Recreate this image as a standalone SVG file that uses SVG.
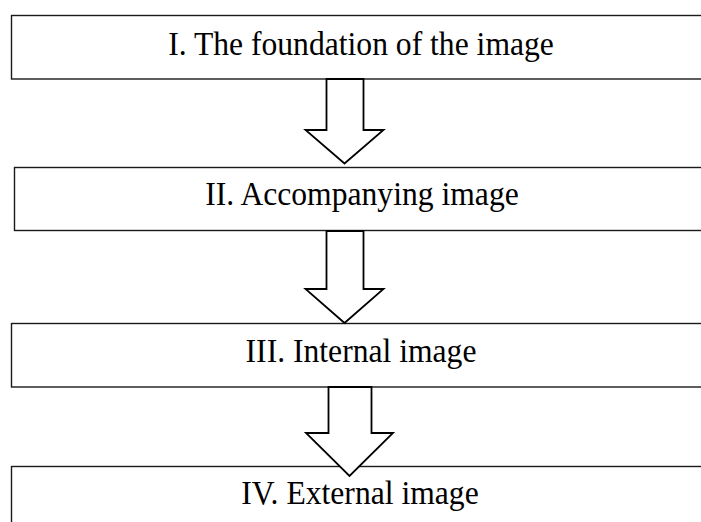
<svg xmlns="http://www.w3.org/2000/svg" width="701" height="522" viewBox="0 0 701 522">
<style>
.box{fill:#fff;stroke:#1a1a1a;stroke-width:1.4}
.lbl{font-family:"Liberation Serif","Times New Roman",serif;font-size:34px;fill:#000;text-anchor:middle}
.arr{fill:#fff;stroke:#000;stroke-width:1.8;stroke-linejoin:miter}
</style>
<rect width="701" height="522" fill="#fff"/>
<g id="node1"><rect class="box" x="11.5" y="15.5" width="700" height="63.5"/><text class="lbl" transform="translate(361,55) scale(0.93,1)">I. The foundation of the image</text></g>
<g id="node2"><rect class="box" x="14.5" y="167.5" width="700" height="63"/><text class="lbl" transform="translate(362,205) scale(0.93,1)">II. Accompanying image</text></g>
<g id="node3"><rect class="box" x="11.5" y="323.5" width="700" height="63.5"/><text class="lbl" transform="translate(361,362) scale(0.93,1)">III. Internal image</text></g>
<g id="node4"><rect class="box" x="11.5" y="466.5" width="700" height="70"/><text class="lbl" transform="translate(360,504) scale(0.93,1)">IV. External image</text></g>
<g id="connectors">
<polygon class="arr" points="326.5,79 363.5,79 363.5,130 383.5,130 344.5,163.5 305.5,130 326.5,130"/>
<polygon class="arr" points="326.5,231 363.5,231 363.5,289 383.5,289 344.5,323 305.5,289 326.5,289"/>
<polygon class="arr" points="328.5,387 371.5,387 371.5,433 393,433 349.5,476 306,433 328.5,433"/>
</g>
</svg>
